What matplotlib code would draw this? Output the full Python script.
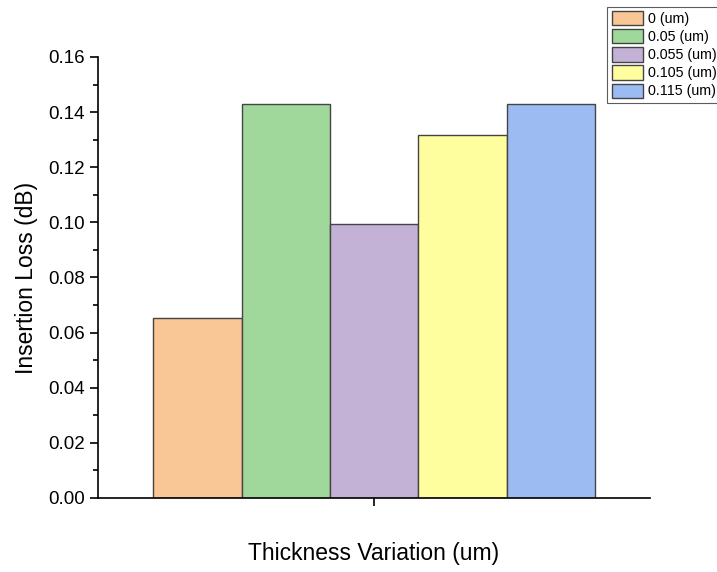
import matplotlib
matplotlib.use("Agg")
import numpy as np
from matplotlib import pyplot as plt
from matplotlib.ticker import MultipleLocator, FormatStrFormatter

labels = ["0 (um)", "0.05 (um)", "0.055 (um)", "0.105 (um)", "0.115 (um)"]
loss = [0.0653, 0.143, 0.0994, 0.1317, 0.143]
colors = ["#F9C795", "#A0D89C", "#C3B2D6", "#FFFE9F", "#9CBBF2"]

plt.rcParams['font.family'] = ['Liberation Sans', 'DejaVu Sans']

fig = plt.figure(figsize=(7.17, 5.72), dpi=100)
ax = fig.add_axes([0.1367, 0.1294, 0.77, 0.771])

w = 0.16
x = (np.arange(len(loss)) - 2) * w
for i in range(len(loss)):
    ax.bar(x[i], loss[i], width=w, color=colors[i], edgecolor="#444444",
           linewidth=1, label=labels[i])

ax.set_xlim(-0.5, 0.5)
ax.set_ylim(0, 0.16)
ax.set_xticks([0])
ax.set_xticklabels([""])
ax.yaxis.set_major_locator(MultipleLocator(0.02))
ax.yaxis.set_minor_locator(MultipleLocator(0.01))
ax.yaxis.set_major_formatter(FormatStrFormatter("%.2f"))
ax.tick_params(axis="both", which="major", direction="out", length=6, width=1.2, labelsize=13.5)
ax.tick_params(axis="y", which="minor", direction="out", length=3.5, width=1.2)
for s in ["top", "right"]:
    ax.spines[s].set_visible(False)
for s in ["left", "bottom"]:
    ax.spines[s].set_linewidth(1.2)

ax.set_ylabel("Insertion Loss (dB)", fontsize=16.5, labelpad=7)
ax.set_xlabel("Thickness Variation (um)", fontsize=16.5, labelpad=22)

leg = fig.legend(loc="upper left", bbox_to_anchor=(0.847, 0.988), fontsize=10.3,
                 frameon=True, fancybox=False, edgecolor="#333333",
                 handlelength=2.2, handleheight=1.15, handletextpad=0.35,
                 labelspacing=0.22, borderpad=0.3, borderaxespad=0)
leg.get_frame().set_linewidth(0.8)

fig.savefig("out.png", dpi=100)
